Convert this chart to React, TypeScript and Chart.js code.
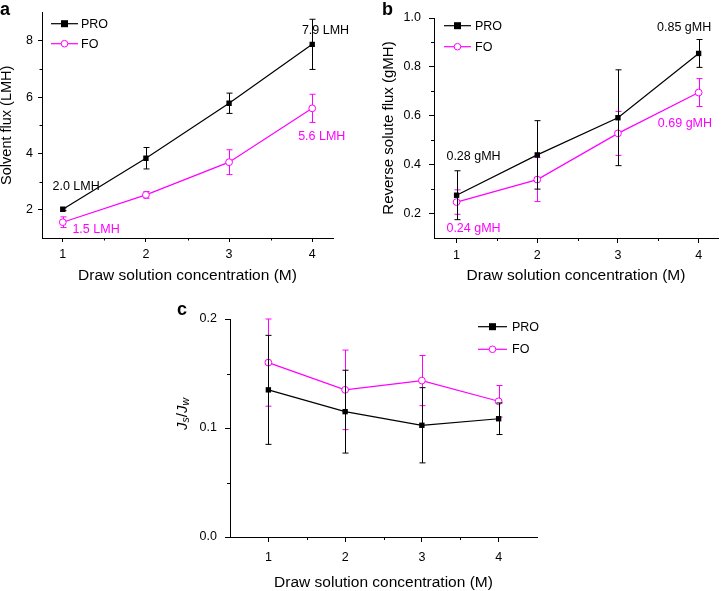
import React, { useEffect, useRef } from 'react';
import { Chart, registerables } from 'chart.js';

Chart.register(...registerables);

const FONT = '"Liberation Sans", Arial, Helvetica, sans-serif';
const BLACK = '#000000';
const MAGENTA = '#ff00ff';

// ---------- data ----------
const concentrations = [1, 2, 3, 4];

// (a) solvent flux, LMH
const proSolventFlux = [2.02, 3.83, 5.78, 7.87];
const proSolventFluxErr = [0.05, 0.38, 0.36, 0.89];
const foSolventFlux = [1.56, 2.53, 3.69, 5.6];
const foSolventFluxErr = [0.19, 0.12, 0.44, 0.5];

// (b) reverse solute flux, gMH
const proReverseFlux = [0.275, 0.44, 0.592, 0.855];
const proReverseFluxErr = [0.1, 0.14, 0.196, 0.057];
const foReverseFlux = [0.247, 0.339, 0.528, 0.695];
const foReverseFluxErr = [0.05, 0.09, 0.09, 0.057];

// (c) Js/Jw
const proRatio = [0.135, 0.115, 0.1025, 0.1085];
const proRatioErr = [0.05, 0.038, 0.0345, 0.0145];
const foRatio = [0.16, 0.135, 0.1435, 0.1245];
const foRatioErr = [0.04, 0.0365, 0.023, 0.0145];

// tick labels
const xTicks = [1, 2, 3, 4];
const xMinorTicks = [1.5, 2.5, 3.5];
const yTicksA = [2, 4, 6, 8];
const yMinorA = [3, 5, 7];
const yTicksB = [0.2, 0.4, 0.6, 0.8, 1.0];
const yMinorB = [0.3, 0.5, 0.7, 0.9];
const yTicksC = [0, 0.1, 0.2];
const yMinorC = [0.05, 0.15];

// value annotations [text, x, y, color]
const annotationsA: [string, number, number, string][] = [
  ['7.9 LMH', 4.16, 8.35, BLACK],
  ['2.0 LMH', 1.16, 2.83, BLACK],
  ['5.6 LMH', 4.115, 4.6, MAGENTA],
  ['1.5 LMH', 1.4, 1.29, MAGENTA],
];
const annotationsB: [string, number, number, string][] = [
  ['0.85 gMH', 3.82, 0.96, BLACK],
  ['0.28 gMH', 1.21, 0.435, BLACK],
  ['0.69 gMH', 3.83, 0.568, MAGENTA],
  ['0.24 gMH', 1.21, 0.14, MAGENTA],
];

const seriesNames = ['PRO', 'FO'];
const xTitle = 'Draw solution concentration (M)';

// ---------- helpers ----------
function toPoints(ys: number[]) {
  return concentrations.map((x, i) => ({ x, y: ys[i] }));
}

const errorBarPlugin = {
  id: 'errorBars',
  beforeDatasetDraw(chart: any, args: any) {
    const ds: any = chart.data.datasets[args.index];
    if (!ds.errors) return;
    const ctx = chart.ctx;
    const ys = chart.scales.y;
    ctx.save();
    ctx.strokeStyle = ds.borderColor;
    ctx.lineWidth = 1;
    args.meta.data.forEach((pt: any, i: number) => {
      const v = ds.data[i].y;
      const e = ds.errors[i];
      const x = Math.round(pt.x) + 0.5;
      const yt = ys.getPixelForValue(v + e);
      const yb = ys.getPixelForValue(v - e);
      ctx.beginPath();
      ctx.moveTo(x, yt);
      ctx.lineTo(x, yb);
      ctx.moveTo(x - 3, yt);
      ctx.lineTo(x + 3, yt);
      ctx.moveTo(x - 3, yb);
      ctx.lineTo(x + 3, yb);
      ctx.stroke();
    });
    ctx.restore();
  },
};

function drawLegend(ctx: CanvasRenderingContext2D, lg: any) {
  const items = [
    { name: seriesNames[0], color: BLACK, style: 'rect' },
    { name: seriesNames[1], color: MAGENTA, style: 'circle' },
  ];
  items.forEach((it, i) => {
    const y = lg.y + i * lg.dy;
    ctx.save();
    ctx.strokeStyle = it.color;
    ctx.lineWidth = 1.2;
    ctx.beginPath();
    ctx.moveTo(lg.x, y);
    ctx.lineTo(lg.x + lg.len, y);
    ctx.stroke();
    const cx = lg.x + lg.len / 2;
    if (it.style === 'rect') {
      ctx.fillStyle = it.color;
      ctx.fillRect(cx - 3.5, y - 3.5, 7, 7);
    } else {
      ctx.fillStyle = '#ffffff';
      ctx.lineWidth = 1;
      ctx.beginPath();
      ctx.arc(cx, y, 3.3, 0, Math.PI * 2);
      ctx.fill();
      ctx.stroke();
    }
    ctx.fillStyle = BLACK;
    ctx.font = `12.5px ${FONT}`;
    ctx.textAlign = 'left';
    ctx.textBaseline = 'middle';
    ctx.fillText(it.name, lg.x + lg.len + lg.gap, y + 0.5);
    ctx.restore();
  });
}

function drawYTitle(ctx: CanvasRenderingContext2D, cfg: any, ca: any) {
  const cx = cfg.yTitleX;
  const cy = cfg.yTitleY ?? (ca.top + ca.bottom) / 2;
  ctx.save();
  ctx.translate(cx, cy);
  ctx.rotate(-Math.PI / 2);
  ctx.fillStyle = BLACK;
  ctx.textBaseline = 'middle';
  if (cfg.yTitleRich) {
    const parts: [string, string, number][] = [
      ['J', `italic 15px ${FONT}`, 0],
      ['s', `italic 10.5px ${FONT}`, 4],
      ['/', `15px ${FONT}`, 0],
      ['J', `italic 15px ${FONT}`, 0],
      ['w', `italic 10.5px ${FONT}`, 4],
    ];
    let total = 0;
    parts.forEach((p) => {
      ctx.font = p[1];
      total += ctx.measureText(p[0]).width;
    });
    let x = -total / 2;
    ctx.textAlign = 'left';
    parts.forEach((p) => {
      ctx.font = p[1];
      ctx.fillText(p[0], x, p[2]);
      x += ctx.measureText(p[0]).width;
    });
  } else {
    ctx.font = `${cfg.yTitleSize}px ${FONT}`;
    ctx.textAlign = 'center';
    ctx.fillText(cfg.yTitle, 0, 0);
  }
  ctx.restore();
}

const decorPlugin = {
  id: 'decor',
  afterDraw(chart: any) {
    const cfg = chart.options.plugins.decor;
    const ctx: CanvasRenderingContext2D = chart.ctx;
    const ca = chart.chartArea;
    const xs = chart.scales.x;
    const ys = chart.scales.y;
    ctx.save();
    // minor ticks
    ctx.strokeStyle = BLACK;
    ctx.lineWidth = 1;
    ctx.beginPath();
    cfg.xMinor.forEach((v: number) => {
      const px = Math.round(xs.getPixelForValue(v)) + 0.5;
      ctx.moveTo(px, ca.bottom);
      ctx.lineTo(px, ca.bottom + cfg.minorLen);
    });
    cfg.yMinor.forEach((v: number) => {
      const py = Math.round(ys.getPixelForValue(v)) + 0.5;
      ctx.moveTo(ca.left, py);
      ctx.lineTo(ca.left - cfg.minorLen, py);
    });
    ctx.stroke();
    // annotations
    ctx.font = `12.5px ${FONT}`;
    ctx.textAlign = 'center';
    ctx.textBaseline = 'middle';
    cfg.annotations.forEach((a: [string, number, number, string]) => {
      ctx.fillStyle = a[3];
      ctx.fillText(a[0], xs.getPixelForValue(a[1]), ys.getPixelForValue(a[2]));
    });
    // x title
    ctx.fillStyle = BLACK;
    ctx.font = `15.5px ${FONT}`;
    ctx.fillText(xTitle, (ca.left + ca.right) / 2, cfg.xTitleY);
    // y title
    drawYTitle(ctx, cfg, ca);
    // panel letter
    ctx.font = `bold 18px ${FONT}`;
    ctx.textAlign = 'left';
    ctx.textBaseline = 'alphabetic';
    ctx.fillText(cfg.letter, cfg.letterX, cfg.letterY);
    ctx.restore();
    drawLegend(ctx, cfg.legend);
  },
};

function Panel(props: any) {
  const ref = useRef<HTMLCanvasElement>(null);
  useEffect(() => {
    const p = props;
    const tickFont = { family: FONT, size: 12.5 };
    const gridCommon = {
      display: true,
      drawOnChartArea: false,
      drawTicks: true,
      tickLength: p.tickLen,
      color: BLACK,
      lineWidth: 1,
    };
    const chart = new Chart(ref.current as HTMLCanvasElement, {
      type: 'line',
      data: {
        datasets: [
          {
            label: seriesNames[0],
            data: toPoints(p.pro),
            errors: p.proErr,
            borderColor: BLACK,
            backgroundColor: BLACK,
            borderWidth: 1.2,
            pointStyle: 'rect',
            pointRadius: 3.8,
            pointBackgroundColor: BLACK,
            pointBorderColor: BLACK,
            pointBorderWidth: 0,
          } as any,
          {
            label: seriesNames[1],
            data: toPoints(p.fo),
            errors: p.foErr,
            borderColor: MAGENTA,
            backgroundColor: MAGENTA,
            borderWidth: 1.2,
            pointStyle: 'circle',
            pointRadius: 3.4,
            pointBackgroundColor: '#ffffff',
            pointBorderColor: MAGENTA,
            pointBorderWidth: 1,
          } as any,
        ],
      },
      options: {
        animation: false,
        responsive: false,
        devicePixelRatio: 1,
        layout: {
          padding: {
            left: 0,
            top: p.area.t,
            right: p.width - p.area.r,
            bottom: 0,
          },
        },
        scales: {
          x: {
            type: 'linear',
            grid: gridCommon,
            border: { display: true, color: BLACK, width: 1 },
            min: p.xMin,
            max: p.xMax,
            afterBuildTicks: (s: any) => {
              s.ticks = xTicks.map((v) => ({ value: v }));
            },
            afterFit: (s: any) => {
              s.height = p.height - p.area.b;
            },
            ticks: {
              font: tickFont,
              color: BLACK,
              padding: p.xTickPad,
              maxRotation: 0,
              autoSkip: false,
              callback: (v: any) => String(v),
            },
          },
          y: {
            type: 'linear',
            grid: gridCommon,
            border: { display: true, color: BLACK, width: 1 },
            min: p.yMin,
            max: p.yMax,
            afterBuildTicks: (s: any) => {
              s.ticks = p.yTicks.map((v: number) => ({ value: v }));
            },
            afterFit: (s: any) => {
              s.width = p.area.l;
            },
            ticks: {
              font: tickFont,
              color: BLACK,
              padding: p.yTickPad,
              autoSkip: false,
              callback: (v: any) => Number(v).toFixed(p.yDecimals),
            },
          },
        } as any,
        plugins: {
          legend: { display: false },
          tooltip: { enabled: false },
          decor: {
            xMinor: xMinorTicks,
            yMinor: p.yMinor,
            minorLen: p.minorLen,
            annotations: p.annotations,
            xTitleY: p.xTitleY,
            yTitle: p.yTitle,
            yTitleSize: p.yTitleSize,
            yTitleRich: p.yTitleRich,
            yTitleX: p.yTitleX,
            yTitleY: p.yTitleY,
            letter: p.letter,
            letterX: p.letterX,
            letterY: p.letterY,
            legend: p.legend,
          },
        } as any,
      },
      plugins: [errorBarPlugin, decorPlugin],
    } as any);
    return () => chart.destroy();
  }, []);
  return (
    <canvas
      ref={ref}
      width={props.width}
      height={props.height}
      style={{
        position: 'absolute',
        left: props.left,
        top: props.top,
        width: props.width,
        height: props.height,
      }}
    />
  );
}

export default function App() {
  return (
    <div
      style={{
        position: 'fixed',
        left: 0,
        top: 0,
        width: 723,
        height: 591,
        background: '#ffffff',
        overflow: 'hidden',
      }}
    >
      <Panel
        left={0}
        top={0}
        width={360}
        height={290}
        area={{ l: 42, t: 12, r: 333, b: 238 }}
        xMin={0.75}
        xMax={4.25}
        yMin={1}
        yMax={9}
        yTicks={yTicksA}
        yMinor={yMinorA}
        yDecimals={0}
        tickLen={4}
        minorLen={2.5}
        xTickPad={5}
        yTickPad={5}
        pro={proSolventFlux}
        proErr={proSolventFluxErr}
        fo={foSolventFlux}
        foErr={foSolventFluxErr}
        annotations={annotationsA}
        xTitleY={276}
        yTitle="Solvent flux (LMH)"
        yTitleSize={14.5}
        yTitleX={7}
        letter="a"
        letterX={0}
        letterY={15}
        legend={{ x: 51, y: 23.7, dy: 20, len: 27, gap: 3 }}
      />
      <Panel
        left={360}
        top={0}
        width={363}
        height={290}
        area={{ l: 74, t: 18, r: 362, b: 238 }}
        xMin={0.72}
        xMax={4.24}
        yMin={0.1}
        yMax={1.0}
        yTicks={yTicksB}
        yMinor={yMinorB}
        yDecimals={1}
        tickLen={5}
        minorLen={3}
        xTickPad={5}
        yTickPad={8}
        pro={proReverseFlux}
        proErr={proReverseFluxErr}
        fo={foReverseFlux}
        foErr={foReverseFluxErr}
        annotations={annotationsB}
        xTitleY={276}
        yTitle="Reverse solute flux (gMH)"
        yTitleSize={15}
        yTitleX={29}
        letter="b"
        letterX={22}
        letterY={15}
        legend={{ x: 84, y: 25.7, dy: 21, len: 27, gap: 4 }}
      />
      <Panel
        left={170}
        top={300}
        width={400}
        height={291}
        area={{ l: 60, t: 19, r: 367, b: 237 }}
        xMin={0.5}
        xMax={4.5}
        yMin={0}
        yMax={0.2}
        yTicks={yTicksC}
        yMinor={yMinorC}
        yDecimals={1}
        tickLen={5}
        minorLen={3}
        xTickPad={8}
        yTickPad={8}
        pro={proRatio}
        proErr={proRatioErr}
        fo={foRatio}
        foErr={foRatioErr}
        annotations={[]}
        xTitleY={283}
        yTitle="Js/Jw"
        yTitleRich={true}
        yTitleX={12.5}
        yTitleY={114}
        letter="c"
        letterX={7}
        letterY={15}
        legend={{ x: 308, y: 26.7, dy: 22.6, len: 29, gap: 5 }}
      />
    </div>
  );
}
